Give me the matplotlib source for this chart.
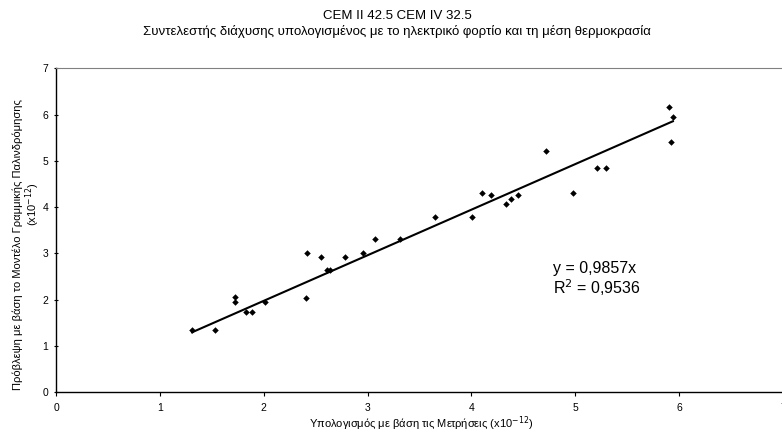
import matplotlib
matplotlib.use("Agg")
import matplotlib.pyplot as plt
import numpy as np

plt.rcParams['font.family'] = ['Liberation Sans', 'DejaVu Sans']

title_lines = ["CEM II 42.5 CEM IV 32.5",
               "Συντελεστής διάχυσης υπολογισμένος με το ηλεκτρικό φορτίο και τη μέση θερμοκρασία"]
xlabel = "Υπολογισμός με βάση τις Μετρήσεις (x10$^{-12}$)"
ylabel_lines = ["Πρόβλεψη με βάση το Μοντέλο Γραμμικής Παλινδρόμησης", "(x10$^{-12}$)"]

measured = [1.31, 1.53, 1.72, 1.72, 1.83, 1.89, 2.01,
            2.41, 2.42, 2.55, 2.61, 2.64, 2.78, 2.96, 3.07, 3.31,
            3.65, 4.01, 4.10, 4.19, 4.33, 4.38, 4.45, 4.72, 4.98,
            5.21, 5.30, 5.90, 5.94, 5.92]
predicted = [1.33, 1.33, 2.05, 1.95, 1.72, 1.72, 1.95,
             2.04, 3.00, 2.93, 2.63, 2.63, 2.93, 3.00, 3.31, 3.31,
             3.78, 3.78, 4.30, 4.27, 4.06, 4.18, 4.27, 5.22, 4.30,
             4.85, 4.85, 6.16, 5.95, 5.41]
slope = 0.9857
r2 = 0.9536

xticks = [0, 1, 2, 3, 4, 5, 6, 7]
yticks = [0, 1, 2, 3, 4, 5, 6, 7]

fig = plt.figure(figsize=(7.82, 4.32), dpi=100)
ax = fig.add_axes([56/782, 1 - 392/432, 727/782, (392 - 68.3)/432])

ax.scatter(measured, predicted, marker='D', s=11, color='black', zorder=3, linewidths=0)
xs = np.array([min(measured), max(measured)])
ax.plot(xs, slope * xs, color='black', lw=1.5, zorder=2)

ax.set_xlim(0, 7)
ax.set_ylim(0, 7)
ax.set_xticks(xticks)
ax.set_yticks(yticks)
ax.tick_params(axis='both', labelsize=7.5, length=3, width=0.8, direction='inout', pad=4)
ax.tick_params(axis='x', direction='out', pad=5)

for s in ['left', 'bottom']:
    ax.spines[s].set_color('black')
    ax.spines[s].set_linewidth(1.0)
for s in ['top', 'right']:
    ax.spines[s].set_color('#808080')
    ax.spines[s].set_linewidth(0.8)

fig.text(421/782, 1 - 424/432, xlabel, fontsize=8, ha='center', va='center')
fig.text(18/782, 1 - 245/432, ylabel_lines[0], fontsize=8, ha='center', va='center', rotation=90)
fig.text(33/782, 1 - 204/432, ylabel_lines[1], fontsize=8, ha='center', va='center', rotation=90)

ax.text(4.785, 2.68, "y = " + f"{slope:.4f}".replace('.', ',') + "x",
        fontsize=11.5, ha='left', va='center')
ax.text(4.785, 2.25, "R$^2$ = " + f"{r2:.4f}".replace('.', ','),
        fontsize=11.5, ha='left', va='center')

fig.text(397/782, 1 - 16/432, title_lines[0], fontsize=9.5, ha='center', va='center')
fig.text(397/782, 1 - 32/432, title_lines[1], fontsize=9.5, ha='center', va='center')

fig.savefig("out.png", dpi=100)
